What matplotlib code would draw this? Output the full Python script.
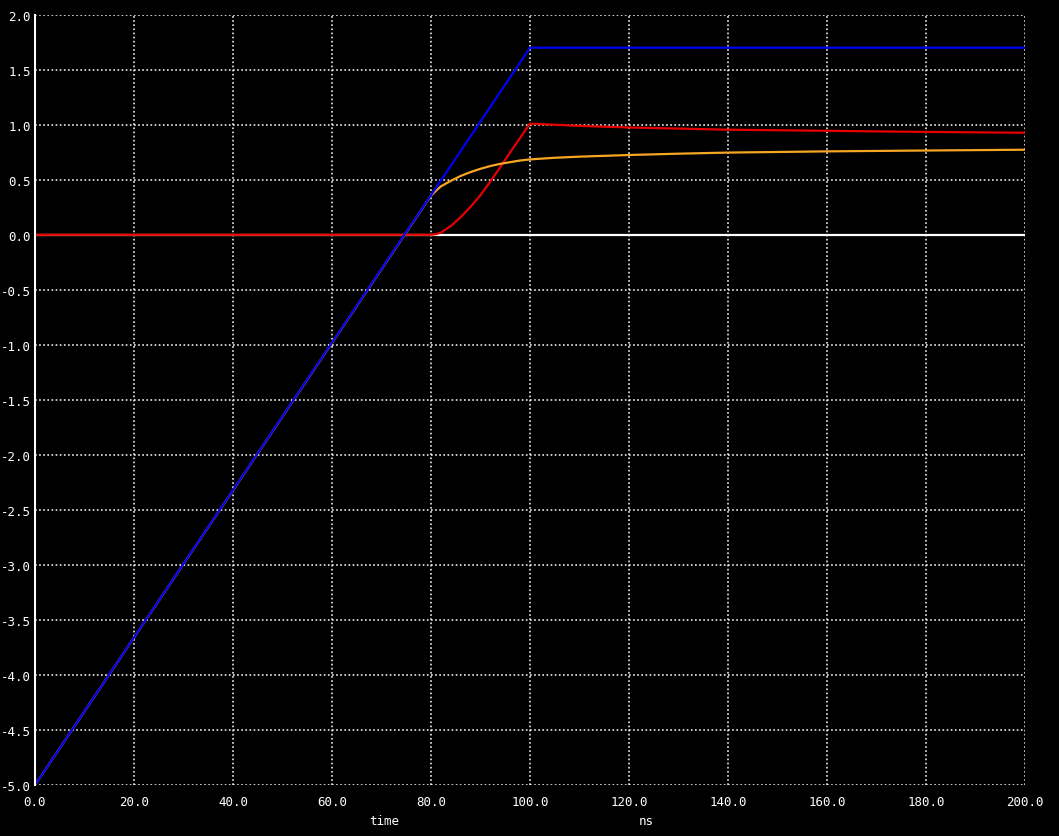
import matplotlib
matplotlib.use('Agg')
from matplotlib import pyplot as plt
import numpy as np

#%% Traces (time in ns)
t_blue = [0.0, 100.0, 200.0]
v_blue = [-5.0, 1.70, 1.70]

t_zero = [0.0, 200.0]
v_zero = [0.0, 0.0]

t_red = [0.0, 80.0, 81.0, 82.0, 84.0, 86.0, 88.0, 90.0, 92.0, 94.0, 96.0, 98.0,
         100.0, 105.0, 110.0, 120.0, 130.0, 140.0, 160.0, 175.0, 200.0]
v_red = [0.0, 0.0, 0.005, 0.02, 0.08, 0.16, 0.255, 0.36, 0.485, 0.615, 0.75, 0.88,
         1.01, 1.0, 0.99, 0.975, 0.965, 0.955, 0.945, 0.937, 0.927]

t_orange = [0.0, 79.0, 80.0, 81.0, 82.0, 84.0, 86.0, 88.0, 90.0, 92.0, 94.0, 96.0, 98.0,
            100.0, 105.0, 110.0, 120.0, 130.0, 140.0, 160.0, 175.0, 200.0]
v_orange = [-5.0, 0.29, 0.355, 0.40, 0.44, 0.49, 0.535, 0.57, 0.60, 0.625, 0.645, 0.66, 0.675,
            0.685, 0.70, 0.71, 0.725, 0.737, 0.747, 0.758, 0.764, 0.773]

x_ticks = np.arange(0, 201, 20)
y_ticks = np.arange(-5.0, 2.01, 0.5)

W, H = 1059, 837
fig = plt.figure(figsize=(W/100, H/100), dpi=100, facecolor='black')
ax = fig.add_axes([35/W, 1-786/H, 990/W, (786-15.7)/H], facecolor='black')

# dotted grid, ngspice style
grid_kw = dict(color='white', lw=1.1, linestyle=(0, (1.1, 1.6)), zorder=1)
for xv in x_ticks[1:]:
    ax.axvline(xv, **grid_kw)
for yv in y_ticks:
    ax.axhline(yv, **grid_kw)

ax.plot(t_zero, v_zero, color='white', lw=1.6, zorder=2)
ax.plot(t_red, v_red, color='#e60000', lw=1.6, zorder=3)
ax.plot(t_orange, v_orange, color='#f5a623', lw=1.6, zorder=4)
ax.plot(t_blue, v_blue, color='#0000f0', lw=1.6, zorder=5)

ax.set_xlim(0, 200)
ax.set_ylim(-5, 2)
for s in ['top', 'right', 'bottom']:
    ax.spines[s].set_visible(False)
ax.spines['left'].set_color('white')
ax.spines['left'].set_linewidth(1.5)
ax.spines['left'].set_zorder(6)

ax.set_xticks(x_ticks)
ax.set_xticklabels(['%.1f' % v for v in x_ticks])
ax.set_yticks(y_ticks)
ax.set_yticklabels(['%.1f' % v for v in y_ticks])
ax.tick_params(colors='white', length=0, labelsize=9, pad=3)
ax.tick_params(axis='x', pad=7)
for lab in ax.get_xticklabels() + ax.get_yticklabels():
    lab.set_family('DejaVu Sans Mono')

fig.text(384/W, 1-822/H, 'time', color='white', fontsize=9, family='DejaVu Sans Mono',
         ha='center', va='center')
fig.text(646/W, 1-822/H, 'ns', color='white', fontsize=9, family='DejaVu Sans Mono',
         ha='center', va='center')

fig.savefig('out.png', dpi=100, facecolor='black')
